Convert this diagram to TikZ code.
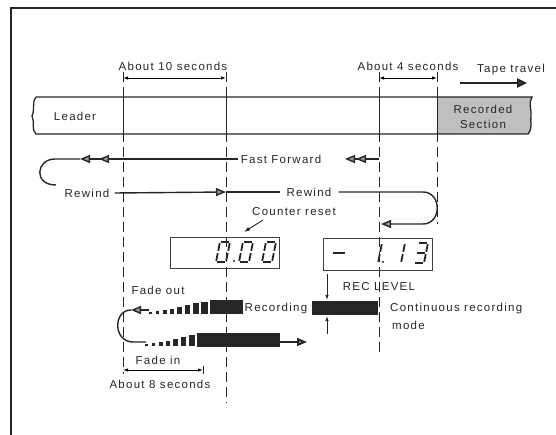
\documentclass[tikz,border=0pt]{standalone}
\usepackage{fontspec}
\setmainfont{Liberation Sans}[LetterSpace=11]
\usetikzlibrary{arrows.meta}
\newcommand\segpiece[1]{%
  \if#1a\draw (1.2,20)--(8.8,20);\fi
  \if#1b\draw (10,18.8)--(10,11.2);\fi
  \if#1c\draw (10,8.8)--(10,1.2);\fi
  \if#1d\draw (1.2,0)--(8.8,0);\fi
  \if#1e\draw (0,1.2)--(0,8.8);\fi
  \if#1f\draw (0,11.2)--(0,18.8);\fi
  \if#1g\draw (1.2,10)--(8.8,10);\fi}
\newcommand\lcddigit[3]{%
  \begin{scope}[shift={(#1,#2)},xslant=0.2,yscale=-1,line width=1.8pt,draw=black!85]
    \foreach \s in {#3}{\segpiece{\s}}
  \end{scope}}
\begin{document}
\begin{tikzpicture}[x=1pt,y=-1pt,
  lbl/.style={font=\fontsize{11.5}{13}\selectfont, text=black!85, inner sep=0pt},
  dimline/.style={line width=0.9pt, {Latex[length=5pt,width=3.5pt]}-{Latex[length=5pt,width=3.5pt]}},
  guide/.style={line width=0.9pt, dash pattern=on 10pt off 5pt, draw=black!85},
  flow/.style={line width=1.4pt, draw=black!85},
  headL/.style={-{Triangle[length=10pt,width=8pt,fill=black!40]}},
  dheadA/.style={-{Triangle[length=10pt,width=8pt,fill=black!40,sep=9pt]Triangle[length=10pt,width=8pt,fill=black!40]}},
  dheadB/.style={-{Triangle[length=10pt,width=8pt,fill=black!40,sep=1pt]Triangle[length=10pt,width=8pt,fill=black!40]}},
  lcdbox/.style={draw=black!75, line width=0.8pt},
  blk/.style={fill=black!85}]
\useasboundingbox (0,0) rectangle (556,435);
% frame
\draw[line width=1.4pt, black!85] (11,435) -- (11,8) -- (556,8);
% tape
\fill[black!25] (437,97) -- (532,97) .. controls (528,105) and (532,110) .. (531,116)
   .. controls (530,122) and (533,128) .. (528,134) -- (437,134) -- cycle;
\draw[line width=1.3pt, black!85] (36,97) -- (532,97) .. controls (528,105) and (532,110) .. (531,116)
   .. controls (530,122) and (533,128) .. (528,134) -- (36,134)
   .. controls (31,130) and (35,122) .. (32,116) .. controls (35,110) and (32,100) .. (36,97);
\node[lbl] (leader) at (75,116) {Leader};
\node[lbl] (recsec) at (483,109) {Recorded};
\node[lbl] (secsec) at (483,124) {Section};
% guides
\draw[guide] (123,72) -- (123,374);
\draw[guide] (226,72) -- (226,403);
\draw[guide] (379,72) -- (379,357);
\draw[guide] (437,72) -- (437,224);
\foreach \gx in {123,226,379,437} \draw[line width=0.9pt, black!85] (\gx,97) -- (\gx,134);
% dimensions
\node[lbl] (t10) at (173,66) {About 10 seconds};
\draw[dimline] (123,78) -- (226,78);
\node[lbl] (t4) at (408,66) {About 4 seconds};
\draw[dimline] (379,78) -- (437,78);
\node[lbl] (tt) at (511,70) {Tape travel};
\draw[line width=2.4pt, black!85, -{Triangle[length=10pt,width=9pt,fill=black!50]}] (460,83) -- (527,83);
% fast forward / rewind
\node[lbl] (ff) at (281,159) {Fast Forward};
\node[lbl] (rw1) at (87,193) {Rewind};
\node[lbl] (rw2) at (309,192) {Rewind};
\coordinate (ffL) at (80,159);
\coordinate (ffR) at (379,159);
\coordinate (ffRt) at (345,159);
\draw[flow, dheadA] ([xshift=-3pt]ff.west) -- (ffL);
\draw[flow] (ffL) -- (55,159) .. controls (36,159) and (33,185) .. (56,185);
\draw[flow, dheadB] (ffR) -- (ffRt);
\coordinate (rwB) at (226,192);
\draw[flow, headL] ([xshift=5pt]rw1.east) -- (rwB);
\draw[flow] (rwB) -- ([xshift=-6pt]rw2.west);
\coordinate (rwEnd) at (381,224);
\draw[flow, headL] ([xshift=7pt]rw2.east) -- (423,192) .. controls (442,192) and (442,224) .. (423,224) -- (rwEnd);
% counter reset
\node[lbl] (cr) at (294,212) {Counter reset};
\coordinate (crT) at (244,232);
\draw[line width=0.9pt, black!85, -{Latex[length=6pt,width=4pt]}] (263,220) -- (crT);
% displays
\draw[lcdbox] (170,237) rectangle (279,268);
\lcddigit{216}{262}{a,b,c,d,e,f}
\lcddigit{239}{262}{a,b,c,d,e,f}
\lcddigit{262}{262}{a,b,c,d,e,f}
\fill[black!85] (234,261) circle (1.2);
\draw[lcdbox] (323,238) rectangle (432,270);
\draw[line width=1.8pt, black!85] (333,253) -- (345,253);
\lcddigit{368}{263}{b,c}
\lcddigit{391}{263}{b,c}
\lcddigit{414}{263}{a,b,c,d,g}
\fill[black!85] (383,262) circle (1.2);
% recording section
\node[lbl] (fo) at (158,290) {Fade out};
\node[lbl] (rl) at (379,287) {REC LEVEL};
\node[lbl] (recg) at (276,309) {Recording};
\node[lbl, anchor=west] (crm) at (390,309) {Continuous recording};
\node[lbl, anchor=west] (mode) at (392,325) {mode};
% top row (fade out)
\foreach \x/\w/\h in {149/3/2,156/3/3,163/4/4,170/4/5,177/5/7,185/5/9,193/6/11,201/7/12}
  \fill[blk] (\x,314) rectangle ({\x+\w},{314-\h});
\fill[blk] (210,300) rectangle (243,314);
\coordinate (topL) at (131,310);
\draw[flow, headL] (149,310) -- (topL);
\fill[blk] (312,301) rectangle (378,315);
% curve between rows
\draw[flow] (topL) .. controls (113,310) and (113,342) .. (133,342) -- (146,342);
% bottom row (fade in)
\foreach \x/\w/\h in {145/3/2,152/3/3,159/4/4,166/4/5,173/5/7,181/5/9,189/6/11}
  \fill[blk] (\x,346) rectangle ({\x+\w},{346-\h});
\fill[blk] (197,333) rectangle (280,347);
\coordinate (botR) at (307,342);
\draw[line width=1.8pt, black!85, -{Triangle[length=10pt,width=8pt,fill=black!50]}] (280,342) -- (botR);
% REC LEVEL arrows
\draw[line width=0.9pt, black!85, -{Latex[length=5pt,width=3.5pt]}] (327,274) -- (327,300);
\draw[line width=0.9pt, black!85, -{Latex[length=5pt,width=3.5pt]}] (327,334) -- (327,316);
% fade in dimension
\node[lbl] (fi) at (158,360) {Fade in};
\draw[dimline] (123,370) -- (203,370);
\draw[line width=0.9pt, black!85] (203,366) -- (203,374);
\node[lbl] (a8) at (160,384) {About 8 seconds};
\end{tikzpicture}
\end{document}
